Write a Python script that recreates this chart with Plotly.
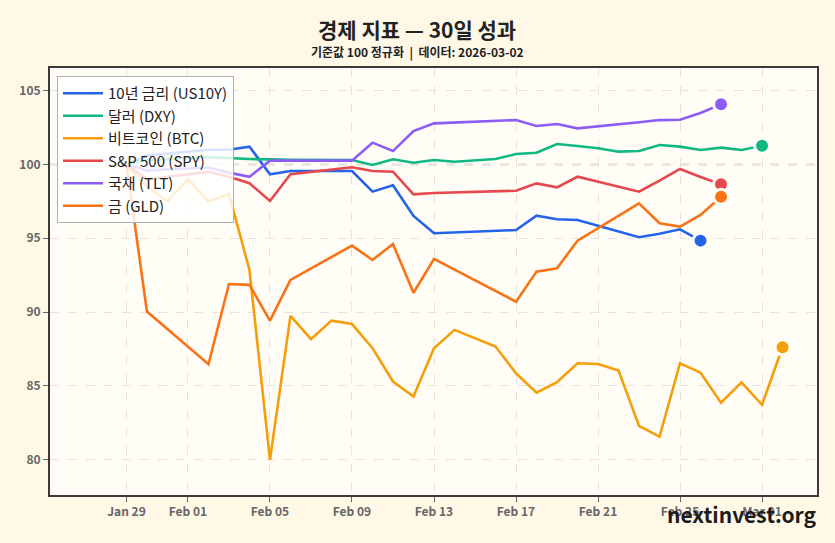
import plotly.graph_objects as go

# ---------------- data ----------------
dates_trading = ["2026-01-29", "2026-01-30", "2026-02-02", "2026-02-03", "2026-02-04", "2026-02-05",
                 "2026-02-06", "2026-02-09", "2026-02-10", "2026-02-11", "2026-02-12", "2026-02-13",
                 "2026-02-17", "2026-02-18", "2026-02-19", "2026-02-20", "2026-02-23", "2026-02-24",
                 "2026-02-25", "2026-02-26", "2026-02-27"]

us10y_dates = dates_trading[:-1]
us10y = [100.0, 100.6, 101.0, 101.0, 101.21, 99.34, 99.56, 99.56, 98.16, 98.59, 96.51, 95.34,
         95.56, 96.53, 96.29, 96.24, 95.07, 95.3, 95.61, 94.84]

dxy_dates = ["2026-01-29", "2026-01-30", "2026-02-02", "2026-02-03", "2026-02-04", "2026-02-05",
             "2026-02-06", "2026-02-09", "2026-02-10", "2026-02-11", "2026-02-12", "2026-02-13",
             "2026-02-14", "2026-02-16", "2026-02-17", "2026-02-18", "2026-02-19", "2026-02-20",
             "2026-02-21", "2026-02-22", "2026-02-23", "2026-02-24", "2026-02-25", "2026-02-26",
             "2026-02-27", "2026-02-28", "2026-03-01"]
dxy = [100.0, 100.3, 100.5, 100.42, 100.37, 100.35, 100.32, 100.3, 99.97, 100.35, 100.12, 100.3,
       100.19, 100.37, 100.71, 100.8, 101.39, 101.25, 101.1, 100.87, 100.91, 101.32, 101.21,
       100.98, 101.14, 100.98, 101.27]

btc_dates = ["2026-01-29", "2026-01-30", "2026-01-31", "2026-02-01", "2026-02-02", "2026-02-03",
             "2026-02-04", "2026-02-05", "2026-02-06", "2026-02-07", "2026-02-08", "2026-02-09",
             "2026-02-10", "2026-02-11", "2026-02-12", "2026-02-13", "2026-02-14", "2026-02-16",
             "2026-02-17", "2026-02-18", "2026-02-19", "2026-02-20", "2026-02-21", "2026-02-22",
             "2026-02-23", "2026-02-24", "2026-02-25", "2026-02-26", "2026-02-27", "2026-02-28",
             "2026-03-01", "2026-03-02"]
btc = [100.0, 98.5, 97.5, 99.0, 97.5, 98.0, 92.85, 79.98, 89.74, 88.16, 89.42, 89.19, 87.55,
       85.29, 84.27, 87.55, 88.79, 87.66, 85.85, 84.54, 85.24, 86.53, 86.48, 86.03, 82.28, 81.56,
       86.53, 85.89, 83.86, 85.24, 83.71, 87.61]

spy_dates = dates_trading
spy = [100.0, 99.0, 99.5, 99.17, 98.73, 97.53, 99.34, 99.81, 99.56, 99.51, 97.98, 98.07,
       98.22, 98.72, 98.45, 99.17, 98.16, 98.9, 99.7, 99.15, 98.66]

tlt_dates = dates_trading
tlt = [100.0, 99.6, 99.8, 99.45, 99.17, 100.26, 100.26, 100.26, 101.48, 100.91, 102.27, 102.79,
       103.01, 102.61, 102.74, 102.45, 102.86, 103.01, 103.03, 103.49, 104.08]

gld_dates = dates_trading
gld = [100.0, 90.03, 86.46, 91.9, 91.84, 89.42, 92.18, 94.5, 93.53, 94.61, 91.31, 93.6,
       90.7, 92.74, 92.97, 94.84, 97.37, 96.02, 95.79, 96.58, 97.82]

series_names = ["10년 금리 (US10Y)", "달러 (DXY)", "비트코인 (BTC)", "S&P 500 (SPY)", "국채 (TLT)", "금 (GLD)"]
series_x = [us10y_dates, dxy_dates, btc_dates, spy_dates, tlt_dates, gld_dates]
series_y = [us10y, dxy, btc, spy, tlt, gld]
colors = ["#2563eb", "#10b981", "#f59e0b", "#e5484d", "#8b5cf6", "#f97316"]

tick_vals = ["2026-01-29", "2026-02-01", "2026-02-05", "2026-02-09", "2026-02-13",
             "2026-02-17", "2026-02-21", "2026-02-25", "2026-03-01"]
tick_text = ["Jan 29", "Feb 01", "Feb 05", "Feb 09", "Feb 13", "Feb 17", "Feb 21", "Feb 25", "Mar 01"]
y_ticks = [80, 85, 90, 95, 100, 105]

title_text = "경제 지표 — 30일 성과"
subtitle_text = "기준값 100 정규화  |  데이터: 2026-03-02"
watermark = "nextinvest.org"

# ---------------- figure ----------------
PAPER = "#fff8e7"
PLOT = "#fffdf6"
FONT = "Noto Sans CJK KR"
W, H = 835, 543
ML, MR, MT, MB = 50, 18, 68, 48
PW, PH = W - ML - MR, H - MT - MB


def px_x(x):
    return (x - ML) / PW


def px_y(y):
    return (H - MB - y) / PH


fig = go.Figure()
for name, xs, ys, c in zip(series_names, series_x, series_y, colors):
    fig.add_trace(go.Scatter(x=xs, y=ys, mode="lines", name=name,
                             line=dict(color=c, width=2.6)))
for name, xs, ys, c in zip(series_names, series_x, series_y, colors):
    fig.add_trace(go.Scatter(x=[xs[-1]], y=[ys[-1]], mode="markers", showlegend=False,
                             marker=dict(color=c, size=15, line=dict(color=PLOT, width=3))))

fig.add_shape(type="line", xref="paper", x0=0, x1=1, yref="y", y0=100, y1=100,
              line=dict(color="#b5b5b5", width=1.3, dash="dash"), layer="below")

fig.update_layout(
    width=W, height=H,
    margin=dict(l=ML, r=MR, t=MT, b=MB),
    paper_bgcolor=PAPER, plot_bgcolor=PLOT,
    font=dict(family=FONT, color="#333"),
    showlegend=True,
    legend=dict(x=px_x(57), y=px_y(76), xanchor="left", yanchor="top",
                bgcolor="rgba(255,255,255,0.82)", bordercolor="#b0b0b0", borderwidth=1,
                font=dict(family=FONT, size=15, color="#222"), tracegroupgap=0,
                itemwidth=40),
    annotations=[
        dict(text=title_text, x=px_x(417), xref="paper", xanchor="center", y=px_y(29),
             yref="paper", yanchor="middle", showarrow=False,
             font=dict(family=FONT, size=21, color="#222", weight="bold")),
        dict(text=subtitle_text, x=px_x(417), xref="paper", xanchor="center", y=px_y(52),
             yref="paper", yanchor="middle", showarrow=False,
             font=dict(family=FONT, size=12, color="#222", weight="bold")),
        dict(text=watermark, x=px_x(818), xref="paper", xanchor="right", y=px_y(514),
             yref="paper", yanchor="middle", showarrow=False,
             font=dict(family=FONT, size=21, color="#1c1c1c", weight="bold")),
    ],
)

fig.update_xaxes(type="date", range=["2026-01-25 06:30", "2026-03-03 16:20"],
                 tickvals=tick_vals, ticktext=tick_text,
                 showgrid=True, gridcolor="#e6e3dc", griddash="dash", gridwidth=1,
                 showline=True, linecolor="#3a3a3a", linewidth=2, mirror=True,
                 ticks="outside", ticklen=5, tickcolor="#666", tickwidth=1,
                 tickfont=dict(family=FONT, size=12, color="#666", weight="bold"),
                 zeroline=False)
fig.update_yaxes(range=[77.6, 106.54], tickvals=y_ticks,
                 showgrid=True, gridcolor="#e6e3dc", griddash="dash", gridwidth=1,
                 showline=True, linecolor="#3a3a3a", linewidth=2, mirror=True,
                 ticks="outside", ticklen=5, tickcolor="#666", tickwidth=1,
                 tickfont=dict(family=FONT, size=12, color="#666", weight="bold"),
                 zeroline=False)

fig.write_html("out.html")
